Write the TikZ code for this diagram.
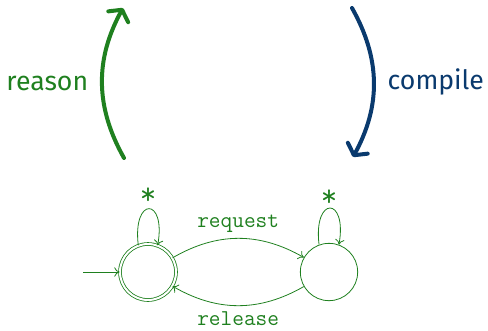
\documentclass[tikz,border=0pt]{standalone}
\usepackage{fontspec}
\newfontfamily\sidefont{Fira Sans}
\usepackage{xcolor}
\usetikzlibrary{arrows.meta,positioning}

\definecolor{fsmgreen}{RGB}{31,128,31}
\definecolor{fsmblue}{RGB}{10,58,110}

\begin{document}
\begin{tikzpicture}[
  x=0.75pt, y=0.75pt,
  every node/.style={font=\ttfamily\fontsize{17}{20}\selectfont},
  state/.style={draw, circle, minimum size=43pt, inner sep=0pt, line width=0.6pt},
  final/.style={state, minimum size=42pt, double, double distance=1.5pt},
  trans/.style={-{To[length=4pt,width=7pt]}, line width=0.6pt},
  selfloop/.style={trans, out=97, in=80, min distance=37pt},
  star/.style={font=\ttfamily\fontsize{24}{24}\selectfont, inner sep=0pt},
  bigarr/.style={-{Straight Barb[length=6pt,width=17pt,round]}, line width=3pt, line cap=round},
  side/.style={font=\sidefont\fontsize{20}{24}\selectfont, inner sep=0pt}
]
\useasboundingbox (0,0) rectangle (488,330);

%--------------------------------------------------
% top: reason / compile arrows
%--------------------------------------------------
\coordinate (rsrc) at (124,172);
\coordinate (rdst) at (123,322);
\coordinate (csrc) at (352,322);
\coordinate (cdst) at (353,173);

\draw[bigarr, fsmgreen] (rsrc) to[bend left=29]
  node[side, left=9pt] (reason) {reason} (rdst);
\draw[bigarr, fsmblue] (csrc) to[bend left=29]
  node[side, right=9pt] (compile) {compile} (cdst);

%--------------------------------------------------
% bottom: automaton
%--------------------------------------------------
\begin{scope}[fsmgreen]
\node[final] (idle) at (148,58) {};
\node[state] (busy) at (329,58) {};
\coordinate (start) at (83,58);

\draw[trans] (start) -- (idle);
\draw[trans] (idle) to[bend left=30] node[above=1pt] (req) {request} (busy);
\draw[trans] (busy) to[bend left=30] node[below=0.5pt] (rel) {release} (idle);

% self loops
\draw[selfloop] (idle.110) to (idle.70);
\node[star] (idlestar) at (148,134) {*};
\draw[selfloop] (busy.110) to (busy.70);
\node[star] (busystar) at (329,132) {*};
\end{scope}

\end{tikzpicture}
\end{document}
